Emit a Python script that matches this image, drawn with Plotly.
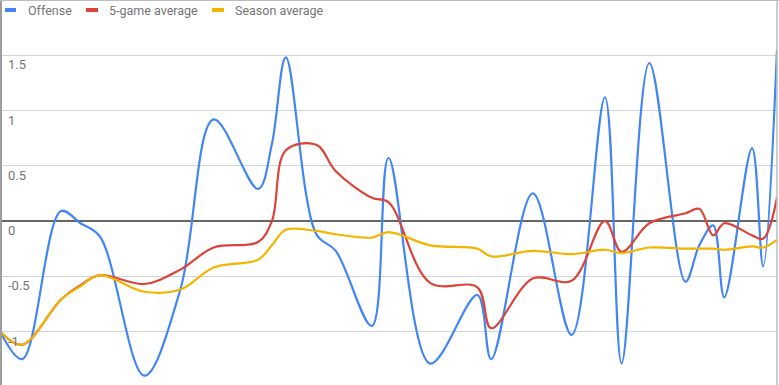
import plotly.graph_objects as go

# ---- data ----
days = [0, 8, 22, 29, 36, 52, 65, 77, 93, 98, 103, 114, 121, 134, 140,
        155, 172, 177, 192, 206, 218, 224, 234, 247, 252, 257, 261, 271, 275, 280]
offense = [-1.0, -1.25, 0.09, -0.02, -0.14, -1.40, -0.62, 0.92, 0.29, 0.70,
           1.48, -0.12, -0.27, -0.95, 0.57, -1.29, -0.67, -1.25, 0.25, -1.03,
           1.12, -1.29, 1.43, -0.55, -0.22, -0.04, -0.69, 0.66, -0.41, 1.55]
avg5 = [-1.0, -1.12, -0.71, -0.58, -0.49, -0.57, -0.44, -0.24, -0.19, 0.0,
        0.64, 0.69, 0.45, 0.21, 0.17, -0.56, -0.60, -0.97, -0.52, -0.54,
        0.0, -0.28, -0.02, 0.07, 0.11, -0.13, -0.02, -0.13, -0.16, 0.21]
season = [-1.0, -1.12, -0.71, -0.59, -0.49, -0.64, -0.62, -0.42, -0.35, -0.22,
          -0.08, -0.09, -0.12, -0.15, -0.10, -0.22, -0.25, -0.32, -0.27, -0.30,
          -0.26, -0.29, -0.24, -0.25, -0.25, -0.25, -0.26, -0.23, -0.24, -0.17]
series_names = ["Offense", "5-game average", "Season average"]
tick_vals = [-1, -0.5, 0, 0.5, 1, 1.5]
tick_text = ["-1", "-0.5", "0", "0.5", "1", "1.5"]

# ---- layout constants ----
W, H = 779, 385
ML, MR, MT, MB = 0, 2, 30, 0
PW, PH = W - ML - MR, H - MT - MB
colors = ["#4285F4", "#DB4437", "#F4B400"]
FONT = "Roboto, Arial, sans-serif"
TXT = "#757575"


def px_x(x):
    return (x - ML) / PW


def px_y(y):
    return 1 - (y - MT) / PH


fig = go.Figure()
for name, vals, c in zip(series_names, [offense, avg5, season], colors):
    fig.add_trace(go.Scatter(x=days, y=vals, name=name, mode="lines",
                             line=dict(color=c, width=2.2, shape="spline", smoothing=1.0),
                             showlegend=False, hoverinfo="skip"))

shapes = []
annotations = []
# custom legend (Google-chart style short bars)
leg = [(5, 16, 26), (86, 98, 107), (212, 224, 233)]
for (b0, b1, tx), name, c in zip(leg, series_names, colors):
    shapes.append(dict(type="rect", xref="paper", yref="paper",
                       x0=px_x(b0), x1=px_x(b1), y0=px_y(12), y1=px_y(8),
                       fillcolor=c, line=dict(width=0)))
    annotations.append(dict(text=name, xref="paper", yref="paper",
                            x=px_x(tx), y=px_y(10), xanchor="left", yanchor="middle",
                            showarrow=False, font=dict(family=FONT, size=12.5, color=TXT)))
# y tick labels, drawn inside the plot just below each gridline
for v, t in zip(tick_vals, tick_text):
    annotations.append(dict(text=t, xref="paper", yref="y", x=px_x(6), y=v,
                            xanchor="left", yanchor="top", showarrow=False,
                            font=dict(family=FONT, size=13, color=TXT)))
# frame lines
frame = "#9E9E9E"
shapes.append(dict(type="line", xref="paper", yref="paper", x0=px_x(1), x1=px_x(1),
                   y0=px_y(H), y1=px_y(0), line=dict(color=frame, width=2)))
shapes.append(dict(type="line", xref="paper", yref="paper", x0=px_x(0), x1=px_x(W),
                   y0=px_y(0.5), y1=px_y(0.5), line=dict(color="#BDBDBD", width=1)))
shapes.append(dict(type="line", xref="paper", yref="paper", x0=px_x(777), x1=px_x(777),
                   y0=px_y(H), y1=px_y(0), line=dict(color="#BDBDBD", width=1.5)))

fig.update_layout(
    width=W, height=H,
    margin=dict(l=ML, r=MR, t=MT, b=MB, pad=0, autoexpand=False),
    paper_bgcolor="white", plot_bgcolor="white",
    xaxis=dict(range=[0, 280], visible=False, showgrid=False, zeroline=False, fixedrange=True),
    yaxis=dict(range=[(221 - (H)) / 110.5, (221 - MT) / 110.5],
               tickvals=tick_vals, showticklabels=False, ticks="",
               showgrid=True, gridcolor="#D4D4D4", gridwidth=1,
               zeroline=True, zerolinecolor="#666666", zerolinewidth=1.5,
               showline=False, fixedrange=True),
    shapes=shapes, annotations=annotations,
    showlegend=False,
)

fig.write_html("out.html", config={"displayModeBar": False},
               post_script="document.body.style.margin='0';document.body.style.overflow='hidden';")
